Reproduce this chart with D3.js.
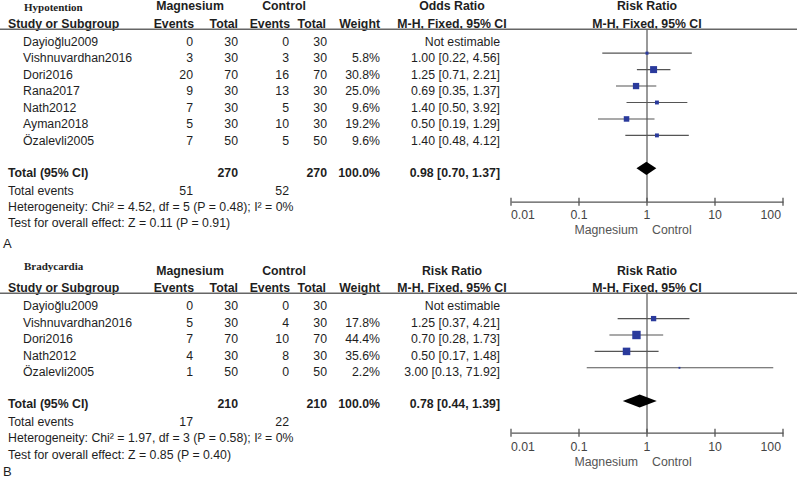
<!DOCTYPE html>
<html><head><meta charset="utf-8">
<script src="https://cdn.jsdelivr.net/npm/d3@7"></script>
<style>body{margin:0;background:#fff}svg{display:block}</style>
</head><body><svg id="c" width="800" height="483"></svg>
<script>
// ---------- Data: Panel A (Hypotention) ----------
const studiesA = ["Dayioğlu2009","Vishnuvardhan2016","Dori2016","Rana2017","Nath2012","Ayman2018","Özalevli2005"];
const magEventsA = [0,3,20,9,7,5,7];
const magTotalA  = [30,30,70,30,30,30,50];
const ctlEventsA = [0,3,16,13,5,10,5];
const ctlTotalA  = [30,30,70,30,30,30,50];
const weightA = [null,5.8,30.8,25.0,9.6,19.2,9.6];
const estA  = [null,1.00,1.25,0.69,1.40,0.50,1.40];
const lowA  = [null,0.22,0.71,0.35,0.50,0.19,0.48];
const highA = [null,4.56,2.21,1.37,3.92,1.29,4.12];
const totalA = {mt:270, ct:270, me:51, ce:52, est:0.98, low:0.70, high:1.37};
const hetA = "Heterogeneity: Chi² = 4.52, df = 5 (P = 0.48); I² = 0%";
const testA = "Test for overall effect: Z = 0.11 (P = 0.91)";

// ---------- Data: Panel B (Bradycardia) ----------
const studiesB = ["Dayioğlu2009","Vishnuvardhan2016","Dori2016","Nath2012","Özalevli2005"];
const magEventsB = [0,5,7,4,1];
const magTotalB  = [30,30,70,30,50];
const ctlEventsB = [0,4,10,8,0];
const ctlTotalB  = [30,30,70,30,50];
const weightB = [null,17.8,44.4,35.6,2.2];
const estB  = [null,1.25,0.70,0.50,3.00];
const lowB  = [null,0.37,0.28,0.17,0.13];
const highB = [null,4.21,1.73,1.48,71.92];
const totalB = {mt:210, ct:210, me:17, ce:22, est:0.78, low:0.44, high:1.39};
const hetB = "Heterogeneity: Chi² = 1.97, df = 3 (P = 0.58); I² = 0%";
const testB = "Test for overall effect: Z = 0.85 (P = 0.40)";

const tickValues = [0.01,0.1,1,10,100];
const tickLabels = ["0.01","0.1","1","10","100"];

// ---------- Drawing ----------
const svg = d3.select("#c");
const F = "Liberation Sans, Arial, sans-serif";
const FS = 12.3;
const TXT = "#1e1e1e", GRAY = "#555", BLUE = "#2a3a9c";
const x = d3.scaleLog().domain([0.01,100]).range([511,783]);
const size = d3.scaleSqrt().domain([0,100]).range([0,12.6]);

function txt(g, s, px, py, anchor, bold, extra) {
  const t = g.append("text").attr("x", px).attr("y", py + 4.4)
    .attr("font-family", F).attr("font-size", FS).attr("fill", TXT)
    .attr("text-anchor", anchor || "start").text(s);
  if (bold) t.attr("font-weight", "bold");
  if (extra) extra(t);
  return t;
}

function panel(o) {
  const g = svg.append("g");
  g.append("text").attr("x", 24).attr("y", o.titleY + 3.8)
    .attr("font-family", "Liberation Serif, Times New Roman, serif")
    .attr("font-size", 11).attr("font-weight", "bold").attr("fill", TXT).text(o.title);
  txt(g, "Magnesium", 190, o.h1, "middle", true);
  txt(g, "Control", 284, o.h1, "middle", true);
  txt(g, o.measure, 452, o.h1, "middle", true);
  txt(g, "Risk Ratio", 647, o.h1, "middle", true);
  txt(g, "Study or Subgroup", 8, o.h2, "start", true);
  txt(g, "Events", 194, o.h2, "end", true);
  txt(g, "Total", 238, o.h2, "end", true);
  txt(g, "Events", 290, o.h2, "end", true);
  txt(g, "Total", 326, o.h2, "end", true);
  txt(g, "Weight", 380, o.h2, "end", true);
  txt(g, "M-H, Fixed, 95% CI", 452, o.h2, "middle", true);
  txt(g, "M-H, Fixed, 95% CI", 647, o.h2, "middle", true);
  g.append("line").attr("x1", 0).attr("x2", 797).attr("y1", o.lineY).attr("y2", o.lineY)
    .attr("stroke", "#666").attr("stroke-width", 1.5);

  const y = d3.scaleLinear().domain([0, 1]).range([o.row0, o.row0 + o.step]);
  const fmt = d3.format(".2f");
  o.studies.forEach((s, i) => {
    const ry = y(i);
    txt(g, s, 23, ry);
    txt(g, o.me[i], 193, ry, "end");
    txt(g, o.mt[i], 238, ry, "end");
    txt(g, o.ce[i], 289, ry, "end");
    txt(g, o.ct[i], 327, ry, "end");
    if (o.w[i] != null) txt(g, o.w[i].toFixed(1) + "%", 380, ry, "end");
    if (o.est[i] == null) {
      txt(g, "Not estimable", 500, ry, "end");
    } else {
      txt(g, fmt(o.est[i]) + " [" + fmt(o.low[i]) + ", " + fmt(o.high[i]) + "]", 500, ry, "end");
    }
  });
  txt(g, "Total (95% CI)", 8, o.totY, "start", true);
  txt(g, o.tot.mt, 238, o.totY, "end", true);
  txt(g, o.tot.ct, 327, o.totY, "end", true);
  txt(g, "100.0%", 380, o.totY, "end", true);
  txt(g, fmt(o.tot.est) + " [" + fmt(o.tot.low) + ", " + fmt(o.tot.high) + "]", 500, o.totY, "end", true);
  txt(g, "Total events", 8, o.evY);
  txt(g, o.tot.me, 193, o.evY, "end");
  txt(g, o.tot.ce, 289, o.evY, "end");
  txt(g, o.het, 8, o.hetY);
  txt(g, o.test, 8, o.testY);
  g.append("text").attr("x", 3).attr("y", o.letterY + 4.7).attr("font-family", F)
    .attr("font-size", 13).attr("fill", TXT).text(o.letter);

  g.append("line").attr("x1", x(1)).attr("x2", x(1)).attr("y1", o.lineY).attr("y2", o.axisY)
    .attr("stroke", GRAY).attr("stroke-width", 1.2);
  o.studies.forEach((s, i) => {
    if (o.est[i] == null) return;
    const fy = y(i) + o.fOff;
    g.append("line").attr("x1", x(o.low[i])).attr("x2", x(Math.min(o.high[i], 100)))
      .attr("y1", fy).attr("y2", fy).attr("stroke", GRAY).attr("stroke-width", 1.1);
    const sz = size(o.w[i]);
    g.append("rect").attr("x", x(o.est[i]) - sz / 2).attr("y", fy - sz / 2)
      .attr("width", sz).attr("height", sz).attr("fill", BLUE);
  });
  const dy = o.diaY;
  g.append("path").attr("d", d3.line()([[x(o.tot.low), dy], [x(o.tot.est), dy - 6.6], [x(o.tot.high), dy], [x(o.tot.est), dy + 6.6]]) + "Z")
    .attr("fill", "#000");

  const ax = g.append("g").attr("transform", `translate(0,${o.axisY})`);
  ax.call(d3.axisBottom(x).tickValues(tickValues).tickFormat("").tickSize(0));
  ax.select(".domain").attr("stroke", GRAY).attr("stroke-width", 1.3);
  tickValues.forEach((v, i) => {
    ax.append("line").attr("x1", x(v)).attr("x2", x(v)).attr("y1", -4).attr("y2", 4)
      .attr("stroke", GRAY).attr("stroke-width", 1.3);
    const anchor = i === 0 ? "start" : (i === tickValues.length - 1 ? "end" : "middle");
    const tx = i === tickValues.length - 1 ? x(v) - 2 : x(v);
    ax.append("text").attr("x", tx).attr("y", o.tickLabY - o.axisY + 4.4)
      .attr("font-family", F).attr("font-size", FS).attr("fill", "#444")
      .attr("text-anchor", anchor).text(tickLabels[i]);
  });
  txt(g, "Magnesium", x(1) - 9, o.favY, "end", false, t => t.attr("fill", "#555"));
  txt(g, "Control", x(1) + 5, o.favY, "start", false, t => t.attr("fill", "#555"));
}

panel({
  title: "Hypotention", titleY: 6.7, h1: 6, h2: 23.3, lineY: 29.3, measure: "Odds Ratio",
  studies: studiesA, me: magEventsA, mt: magTotalA, ce: ctlEventsA, ct: ctlTotalA,
  w: weightA, est: estA, low: lowA, high: highA, tot: totalA, het: hetA, test: testA,
  row0: 41.5, step: 16.45, fOff: -4.8, totY: 172.7, diaY: 168.3, evY: 190.5, hetY: 206.7, testY: 223,
  axisY: 201.7, tickLabY: 215, favY: 230, letter: "A", letterY: 243
});
panel({
  title: "Bradycardia", titleY: 266, h1: 270.7, h2: 287.7, lineY: 293.3, measure: "Risk Ratio",
  studies: studiesB, me: magEventsB, mt: magTotalB, ce: ctlEventsB, ct: ctlTotalB,
  w: weightB, est: estB, low: lowB, high: highB, tot: totalB, het: hetB, test: testB,
  row0: 306, step: 16.4, fOff: -3.8, totY: 403.3, diaY: 401, evY: 421.7, hetY: 437.7, testY: 454.3,
  axisY: 432.7, tickLabY: 447, favY: 461.7, letter: "B", letterY: 471.7
});
</script></body></html>
